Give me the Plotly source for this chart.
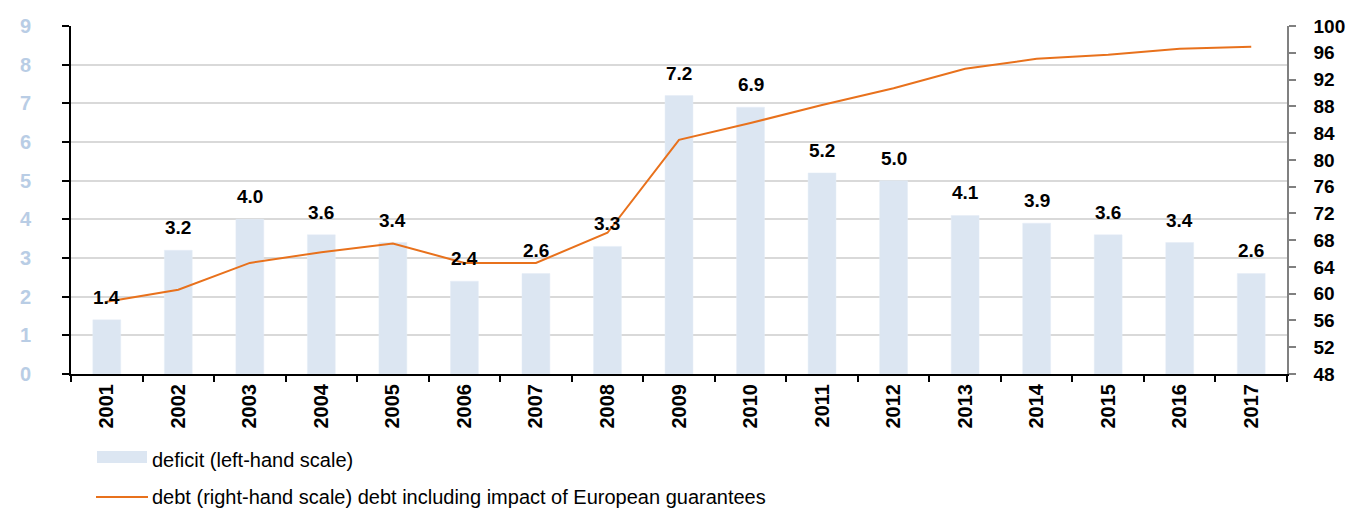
import plotly.graph_objects as go

years = ["2001", "2002", "2003", "2004", "2005", "2006", "2007", "2008", "2009",
         "2010", "2011", "2012", "2013", "2014", "2015", "2016", "2017"]
deficit = [1.4, 3.2, 4.0, 3.6, 3.4, 2.4, 2.6, 3.3, 7.2, 6.9, 5.2, 5.0, 4.1, 3.9, 3.6, 3.4, 2.6]
debt = [58.8, 60.6, 64.6, 66.2, 67.5, 64.6, 64.6, 69.1, 83.0, 85.5, 88.2, 90.7, 93.6, 95.1, 95.7, 96.6, 96.9]

left_ticks = list(range(0, 10))
right_ticks = list(range(48, 101, 4))

BAR = "#dce6f2"
LINE = "#e8711c"
FONT = "Arial, Liberation Sans, sans-serif"

fig = go.Figure()
fig.add_trace(go.Bar(x=years, y=deficit, marker_color=BAR, name="deficit (left-hand scale)",
                     showlegend=False, hoverinfo="skip"))
fig.add_trace(go.Scatter(x=years, y=debt, yaxis="y2", mode="lines",
                         line=dict(color=LINE, width=2),
                         name="debt (right-hand scale) debt including impact of European guarantees",
                         showlegend=False))

for i, v in enumerate(deficit):
    fig.add_annotation(x=i, y=v, xref="x", yref="y", text=f"{v:.1f}", showarrow=False,
                       yanchor="bottom", yshift=10,
                       font=dict(family=FONT, size=19, color="black", weight="bold"))

# custom legend
fig.add_shape(type="rect", xref="paper", yref="paper", x0=(97 - 71) / 1216, x1=(147 - 71) / 1216,
              y0=-(451 - 374) / 348, y1=-(463 - 374) / 348, fillcolor=BAR, line_width=0)
fig.add_annotation(xref="paper", yref="paper", x=(150 - 71) / 1216, y=-(460 - 374) / 348,
                   xanchor="left", yanchor="middle", showarrow=False,
                   text="deficit (left-hand scale)",
                   font=dict(family=FONT, size=20, color="black"))
fig.add_shape(type="line", xref="paper", yref="paper", x0=(96 - 71) / 1216, x1=(148 - 71) / 1216,
              y0=-(497 - 374) / 348, y1=-(497 - 374) / 348, line=dict(color=LINE, width=2))
fig.add_annotation(xref="paper", yref="paper", x=(150 - 71) / 1216, y=-(497 - 374) / 348,
                   xanchor="left", yanchor="middle", showarrow=False,
                   text="debt (right-hand scale) debt including impact of European guarantees",
                   font=dict(family=FONT, size=20, color="black"))

fig.update_layout(
    width=1350, height=509,
    margin=dict(l=71, r=63, t=26, b=135, autoexpand=False),
    plot_bgcolor="white", paper_bgcolor="white",
    bargap=0.61,
    font=dict(family=FONT),
    xaxis=dict(type="category", range=[-0.5, 16.5], showline=True, linecolor="black", linewidth=2,
               ticks="outside", ticklen=6, tickcolor="black", tickwidth=1.5,
               tickson="boundaries", tickangle=-90,
               tickfont=dict(family=FONT, size=20, color="black", weight="bold"),
               showgrid=False),
    yaxis=dict(range=[0, 9], tickvals=left_ticks, showline=True, linecolor="black", linewidth=2,
               ticks="outside", ticklen=7, tickcolor="black", tickwidth=1.5,
               tickfont=dict(family=FONT, size=20, color="#b9cde5", weight="bold"),
               ticklabelstandoff=27,
               showgrid=True, gridcolor="#d9d9d9", gridwidth=1.5, zeroline=False),
    yaxis2=dict(range=[48, 100], tickvals=right_ticks, overlaying="y", side="right",
                showline=True, linecolor="#808080", linewidth=1.5,
                ticks="outside", ticklen=7, tickcolor="#808080", tickwidth=1.5,
                tickfont=dict(family=FONT, size=19, color="black", weight="bold"),
                ticklabelstandoff=14,
                showgrid=False, zeroline=False),
)

fig.write_html("out.html", config={"displayModeBar": False},
               post_script="document.body.style.margin='0';document.body.style.overflow='hidden';")
